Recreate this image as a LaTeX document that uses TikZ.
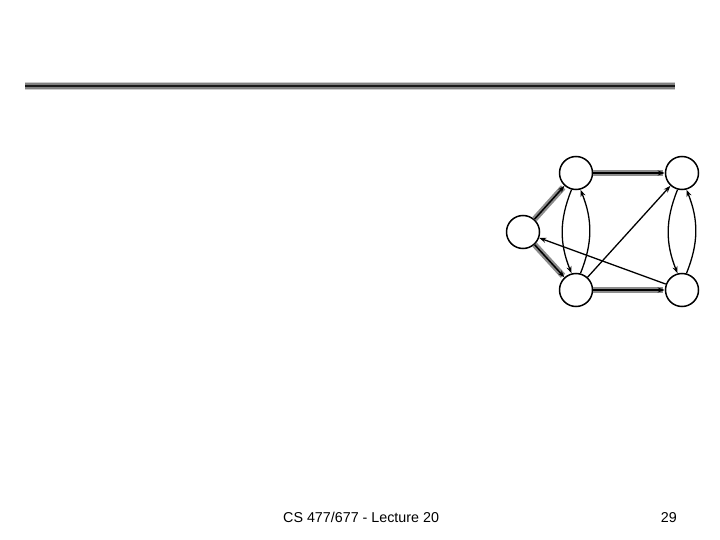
\documentclass[tikz,border=0pt]{standalone}
\usepackage{fontspec}
\setmainfont{Liberation Sans}
\usetikzlibrary{arrows.meta}
\begin{document}
\begin{tikzpicture}[x=1pt,y=-1pt,
  vertex/.style={circle,draw=black,line width=1.5pt,minimum size=33pt,inner sep=0pt,fill=white},
  tip/.style={-{Stealth[length=7pt,width=5pt]}},
  thinedge/.style={tip,line width=1.3pt},
  heavyback/.style={line width=6pt,draw=black!45},
  heavyfront/.style={tip,line width=1.5pt},
  lbl/.style={font=\fontsize{14.3}{16}\selectfont,inner sep=0pt,anchor=base west}]
\useasboundingbox (0,0) rectangle (720,540);
% header rule
\draw[line width=8pt,draw=black!20] (25,86) -- (675,86);
\draw[line width=5.5pt,draw=black!50] (25,86) -- (675,86);
\draw[line width=2.5pt,draw=black!90] (25,86) -- (675,86);
% vertices
\node[vertex] (S) at (523,232) {};
\node[vertex] (A) at (576,173) {};
\node[vertex] (B) at (682,173) {};
\node[vertex] (C) at (576,290) {};
\node[vertex] (D) at (682,290) {};
% heavy edges
\foreach \u/\v in {S/A,S/C,A/B,C/D}{
  \draw[heavyback,shorten >=2pt] (\u) -- (\v);
  \draw[heavyfront] (\u) -- (\v);
}
% curved pairs
\draw[thinedge] (A.255) to[bend right=22] (C.105);
\draw[thinedge] (C.75) to[bend right=22] (A.285);
\draw[thinedge] (B.255) to[bend right=22] (D.105);
\draw[thinedge] (D.75) to[bend right=22] (B.285);
% straight thin edges
\draw[thinedge] (C) -- (B);
\draw[thinedge] (D) -- (S);
% footer
\node[lbl] (foot) at (283,522) {CS 477/677 - Lecture 20};
\node[lbl,anchor=base east] (page) at (677,522) {29};
\end{tikzpicture}
\end{document}
